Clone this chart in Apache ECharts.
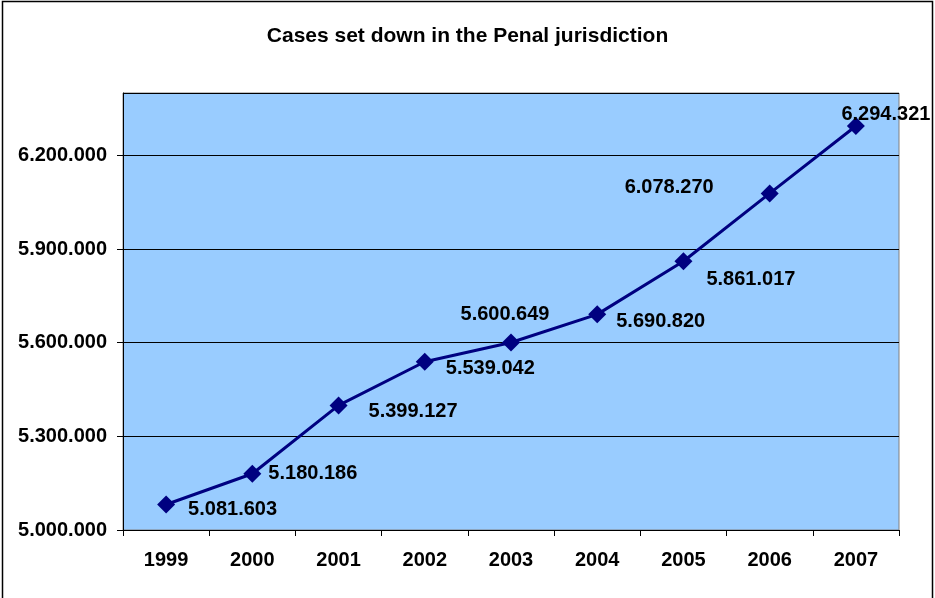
<!DOCTYPE html>
<html>
<head>
<meta charset="utf-8">
<script src="https://cdn.jsdelivr.net/npm/echarts@6/dist/echarts.min.js"></script>
<style>
html,body{margin:0;padding:0;background:#fff;}
#chart{width:935px;height:598px;}
</style>
</head>
<body>
<div id="chart"></div>
<script>
const titleText = 'Cases set down in the Penal jurisdiction';
const years = ['1999','2000','2001','2002','2003','2004','2005','2006','2007'];
const cases = [5081603, 5180186, 5399127, 5539042, 5600649, 5690820, 5861017, 6078270, 6294321];
const yMin = 5000000, yMax = 6400000, yStep = 300000;

// label placement per point (layout only)
const labelLayout = [
  {position:'right', offset:[8,5]},
  {position:'right', offset:[2,0]},
  {position:'right', offset:[16,6]},
  {position:'right', offset:[7,7]},
  {position:'top', offset:[-6,-4]},
  {position:'right', offset:[5,7]},
  {position:'right', offset:[9,18]},
  {position:'left', offset:[-42,-6]},
  {position:'top', offset:[30,12]}
];

function fmt(v){ return String(Math.round(v)).replace(/\B(?=(\d{3})+(?!\d))/g,'.'); }

const font = 'Liberation Sans, Arial, sans-serif';
const chart = echarts.init(document.getElementById('chart'), null, {renderer:'canvas'});
chart.setOption({
  animation:false,
  backgroundColor:'#ffffff',
  title:{text:titleText, left:'center', top:21, textStyle:{fontFamily:font, fontWeight:'bold', fontSize:21, color:'#000'}},
  grid:{left:123, right:36, top:93, bottom:68, show:true, backgroundColor:'#99ccff', borderColor:'#808080', borderWidth:1},
  graphic:[{type:'rect', shape:{x:2.5,y:1.5,width:930,height:620}, style:{fill:null, stroke:'#000', lineWidth:1.5}, silent:true, z:-1}],
  xAxis:{type:'category', data:years, boundaryGap:true,
    axisLine:{lineStyle:{color:'#000', width:1}},
    axisTick:{show:true, length:6, inside:false, lineStyle:{color:'#000'}},
    axisLabel:{fontFamily:font, fontWeight:'bold', fontSize:20, color:'#000', margin:20},
    splitLine:{show:false}},
  yAxis:{type:'value', min:yMin, max:yMax, interval:yStep,
    axisLine:{show:true, lineStyle:{color:'#000', width:1}},
    axisTick:{show:true, length:6, lineStyle:{color:'#000'}},
    axisLabel:{fontFamily:font, fontWeight:'bold', fontSize:20, color:'#000', margin:16, showMaxLabel:false, formatter:fmt},
    splitLine:{show:true, lineStyle:{color:'#000', width:1}}},
  series:[{type:'line', data:cases.map((v,i)=>({value:v, label:{position:labelLayout[i].position, offset:labelLayout[i].offset}})),
    symbol:'diamond', symbolSize:18, showAllSymbol:true,
    lineStyle:{color:'#000080', width:3}, itemStyle:{color:'#000080'},
    label:{show:true, fontFamily:font, fontWeight:'bold', fontSize:20, color:'#000', formatter:p=>fmt(p.value)}}]
});
</script>
</body>
</html>
